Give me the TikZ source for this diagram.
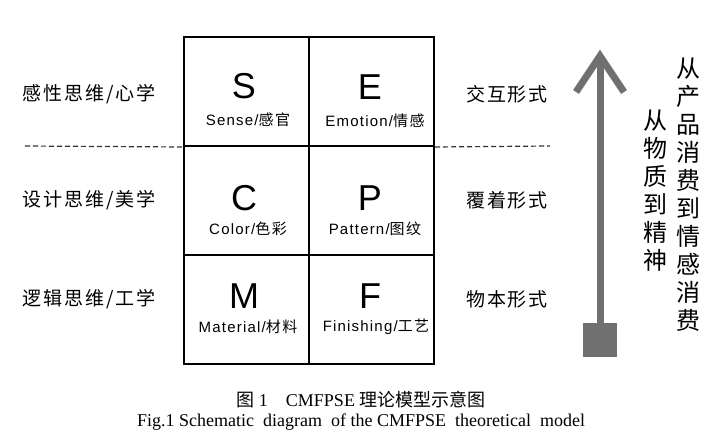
\documentclass[tikz,border=0pt]{standalone}
\usepackage{fontspec}
\setmainfont{Liberation Sans}
\newfontfamily\zhfont[LetterSpace=10]{Noto Sans CJK SC}
\newfontfamily\zhcap{Noto Sans CJK SC}
\newfontfamily\subfont[LetterSpace=8]{Liberation Sans}
\newfontfamily\capfont{Liberation Serif}
\usetikzlibrary{calc}
\definecolor{arrowgray}{RGB}{112,112,112}

\tikzset{
  cell/.style={draw, line width=2pt, minimum width=125pt, minimum height=109pt, inner sep=0pt},
  letter/.style={font=\fontsize{36}{40}\selectfont, inner sep=0pt},
  sub/.style={font=\fontsize{15}{17}\selectfont\subfont, inner sep=0pt},
  side/.style={font=\fontsize{19}{22}\selectfont\zhfont, inner sep=0pt},
  vtext/.style={font=\fontsize{24}{28}\selectfont\zhcap, align=center, inner sep=0pt, anchor=north},
  caption/.style={font=\fontsize{18}{20}\selectfont\capfont, inner sep=0pt},
  sepline/.style={dashed, dash pattern=on 5pt off 3pt, line width=1.2pt, black!80},
  arrowline/.style={arrowgray, line width=7pt},
}

\begin{document}
\begin{tikzpicture}[x=1pt, y=-1pt]
    \useasboundingbox (0,0) rectangle (722,446);

    % CMFPSE grid
    \node[cell] (cS) at (246.5, 91.5) {};
    \node[cell] (cE) at (371.5, 91.5) {};
    \node[cell] (cC) at (246.5,200.5) {};
    \node[cell] (cP) at (371.5,200.5) {};
    \node[cell] (cM) at (246.5,309.5) {};
    \node[cell] (cF) at (371.5,309.5) {};

    % Letters and names
    \node[letter] (S) at (244, 86) {S};
    \node[letter] (E) at (370, 87) {E};
    \node[letter] (C) at (244,198) {C};
    \node[letter] (P) at (370,198) {P};
    \node[letter] (M) at (244,296) {M};
    \node[letter] (F) at (370,296) {F};
    \node[sub] (sS) at (248,120) {Sense/\zhfont 感官};
    \node[sub] (sE) at (375,121) {Emotion/\zhfont 情感};
    \node[sub] (sC) at (248,229) {Color/\zhfont 色彩};
    \node[sub] (sP) at (375,229) {Pattern/\zhfont 图纹};
    \node[sub] (sM) at (248,327) {Material/\zhfont 材料};
    \node[sub] (sF) at (376,327) {Finishing/\zhfont 工艺};

    % Dashed separator
    \coordinate (dl) at (25,146);
    \coordinate (dr) at (550,146);
    \draw[sepline] (dl) -- (cS.south west);
    \draw[sepline] (cE.south east) -- (dr);

    % Side labels
    \node[side] (l1) at (89, 94) {感性思维/心学};
    \node[side] (l2) at (89,200) {设计思维/美学};
    \node[side] (l3) at (89,299) {逻辑思维/工学};
    \node[side] (r1) at (507, 94) {交互形式};
    \node[side] (r2) at (507,200) {覆着形式};
    \node[side] (r3) at (507,299) {物本形式};

    % Arrow
    \node[fill=arrowgray, minimum size=34pt, inner sep=0pt] (base) at (600,340) {};
    \coordinate (tip) at (600,56);
    \draw[arrowline] (base.center) -- (tip);
    \draw[arrowline, line join=miter] ($(tip)+(-24,36)$) -- (tip) -- ($(tip)+(24,36)$);

    % Vertical text
    \node[vtext] (v1) at (688,58) {从\\产\\品\\消\\费\\到\\情\\感\\消\\费};
    \node[vtext] (v2) at (655,110) {从\\物\\质\\到\\精\\神};

    % Caption
    \node[caption] (cap1) at (361,400) {{\zhcap 图} 1\quad CMFPSE {\zhcap 理论模型示意图}};
    \node[caption] (cap2) at (361,422) {Fig.1 Schematic\ \ diagram\ \ of the CMFPSE\ \ theoretical\ \ model};
\end{tikzpicture}
\end{document}
